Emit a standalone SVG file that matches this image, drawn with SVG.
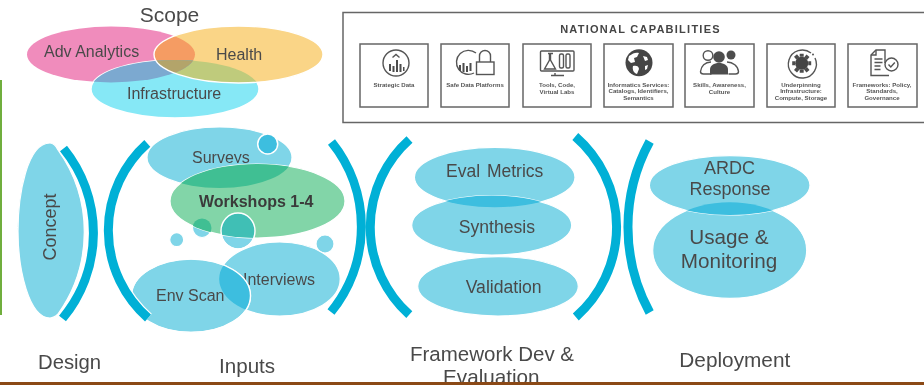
<svg xmlns="http://www.w3.org/2000/svg" width="924" height="385" viewBox="0 0 924 385">
<style>
text{font-family:"Liberation Sans",Arial,sans-serif;fill:#4a4a4a}
.m{text-anchor:middle}
.b{fill:#7fd5e8;stroke:#fff;stroke-width:1.2}
.ov{fill:#3cbedf}
.gr{fill:#40bf93}
.arc{fill:none;stroke:#00b0d6;stroke-width:9}
.halo{fill:none;stroke:#fff;stroke-width:11.500}
.cap{fill:#fff;stroke:#666;stroke-width:1.5}
.capt{font-size:6.1px;font-weight:bold;text-anchor:middle;fill:#555}
.i{fill:none;stroke:#555;stroke-width:1.4}
.d{fill:#4d4d4d;stroke:none}
.w{fill:none;stroke:#fff;stroke-width:1.4}
</style>
<defs>
<filter id="soft" filterUnits="userSpaceOnUse" x="0" y="0" width="924" height="385"><feGaussianBlur stdDeviation="0.55"/></filter>
<clipPath id="cPink"><ellipse cx="111" cy="54.5" rx="84" ry="28"/></clipPath>
<clipPath id="cHealth"><ellipse cx="238.5" cy="54.5" rx="84.5" ry="28.5"/></clipPath>
<clipPath id="cInfra"><ellipse cx="175" cy="89" rx="84" ry="29"/></clipPath>
<clipPath id="cWork"><ellipse cx="257.5" cy="201" rx="87.5" ry="37"/></clipPath>
<clipPath id="cInter"><ellipse cx="279.7" cy="279" rx="60.5" ry="37"/></clipPath>
<clipPath id="cEval"><ellipse cx="494.7" cy="177.3" rx="80.3" ry="30"/></clipPath>
<clipPath id="cUsage"><ellipse cx="729.7" cy="250.3" rx="77" ry="48"/></clipPath>
<clipPath id="cSurveyText"><rect x="185" y="140" width="70" height="23"/></clipPath>
</defs>
<rect width="924" height="385" fill="#fff"/>
<g filter="url(#soft)">
<rect x="0" y="80" width="2" height="235" fill="#6fae3c"/>

<g id="scope">
<text class="m" x="169.500" y="22" font-size="21">Scope</text>
<ellipse cx="111" cy="54.5" rx="84" ry="28" fill="#f08cbc"/>
<ellipse cx="175" cy="89" rx="84" ry="29" fill="#86e8f6" stroke="#fff" stroke-width="1.4"/>
<ellipse cx="238.5" cy="54.5" rx="84.5" ry="28.5" fill="#fad587"/>
<g clip-path="url(#cHealth)"><ellipse cx="111" cy="54.5" rx="84" ry="28" fill="#f59c63"/><ellipse cx="175" cy="89" rx="84" ry="29" fill="#bfcb7c"/><g clip-path="url(#cPink)"><ellipse cx="175" cy="89" rx="84" ry="29" fill="#b3a46a"/></g></g>
<g clip-path="url(#cPink)"><g clip-path="url(#cInfra)"><rect x="91" y="60" width="104" height="24" fill="#7ca9d0"/></g><g clip-path="url(#cHealth)"><g clip-path="url(#cInfra)"><rect x="91" y="60" width="104" height="24" fill="#b3a46a"/></g></g></g>
<ellipse class="w" cx="238.500" cy="54.500" rx="84.500" ry="28.500"/>
<text x="44" y="57" font-size="16">Adv Analytics</text>
<text x="216" y="60" font-size="16">Health</text>
<text x="127" y="99" font-size="16">Infrastructure</text>
</g>

<g id="national-capabilities">
<rect x="343" y="12.500" width="590" height="110" fill="#fff" stroke="#666" stroke-width="1.500"/>
<text class="m" x="640.500" y="33" font-size="11" font-weight="bold" letter-spacing="1.250" style="fill:#444">NATIONAL CAPABILITIES</text>
<g id="cap-strategic"><rect class="cap" x="360" y="44" width="68" height="63"/>
<circle class="i" cx="396" cy="63" r="13"/><path class="i" d="M392.500 57.500l3.500-3 3.500 3"/><path class="d" d="M389 64h2v7h-2zM392.500 66h2v6h-2zM396 60h2v12h-2zM399.500 64h2v8h-2zM403 67h1.500v4H403z"/>
<text class="capt" x="394" y="86.700">Strategic Data</text></g>
<g id="cap-safe"><rect class="cap" x="441" y="44" width="68" height="63"/>
<path class="i" d="M476 53A12 12 0 1 0 474 73"/><path class="d" d="M459 65h2v6h-2zM462.500 63h2v9h-2zM466 66h2v6h-2zM469.500 63h2v8h-2z"/>
<rect class="i" x="476.500" y="62" width="17.500" height="12.500"/><path class="i" d="M479.500 62V56a5.500 5.500 0 0 1 11 0v6"/>
<text class="capt" x="475" y="86.700">Safe Data Platforms</text></g>
<g id="cap-tools"><rect class="cap" x="523" y="44" width="68" height="63"/>
<rect class="i" x="540.500" y="51" width="33.500" height="20" rx="1"/><path class="i" d="M555 73v2M551 75.500h13M548 53.500h5M549.500 54v6l-5 9h11l-5-9v-6"/><rect class="i" x="559.500" y="54" width="4" height="14" rx="1.500"/><rect class="i" x="566" y="54" width="4" height="14" rx="1.500"/>
<text class="capt" x="557" y="86.700">Tools, Code,</text><text class="capt" x="557" y="93.500">Virtual Labs</text></g>
<g id="cap-informatics"><rect class="cap" x="604" y="44" width="69" height="63"/>
<circle cx="639" cy="62.700" r="13.500" fill="#444"/><path d="M629 56c4-3 7-4 10-3l-2 4-3 1 1 4-4 1-3-3zM633 66c3-1 6 0 6 3l-2 5c-3-1-5-4-4-8zM643 56l4 1 1 3-3 1zM645 66l3-1-1 4-2 1z" fill="#fff"/>
<text class="capt" x="638.500" y="86.700">Informatics Services:</text><text class="capt" x="638.500" y="93.300">Catalogs, Identifiers,</text><text class="capt" x="638.500" y="100">Semantics</text></g>
<g id="cap-skills"><rect class="cap" x="685" y="44" width="69" height="63"/>
<circle class="i" cx="708" cy="55.500" r="4.800"/><circle class="d" cx="719" cy="57" r="5.800"/><circle class="d" cx="731" cy="55" r="4.500"/>
<path class="i" d="M711 62c-6 0-10 4-10.500 9.500 0 2 1 2.500 3 2.500h8M727 62c6 0 11 4 11.500 9.500 0 2-1 2.500-3 2.500h-7"/><path class="d" d="M710 74.500v-5c0-4 4-6.500 9-6.500s9 2.500 9 6.500v5z"/>
<text class="capt" x="719.500" y="86.700">Skills, Awareness,</text><text class="capt" x="719.500" y="93.500">Culture</text></g>
<g id="cap-underpinning"><rect class="cap" x="767" y="44" width="68" height="63"/>
<path class="i" d="M811 53A14 14 0 1 0 815 58"/><circle cx="813" cy="54.500" r="1" fill="#555"/><circle cx="801.700" cy="63.300" r="6.500" fill="#444"/><path class="d" d="M799.700 53.800h4v3h-4zM799.700 69.800h4v3h-4zM792.200 61.300h3v4h-3zM808.200 61.300h3v4h-3zM794 56.800l3-2.500 2.500 3-3 2.500zM806.500 54.500l3 2.500-2.500 3-3-2.500zM794 70l3 2.500 2.500-3-3-2.500zM806.500 72.500l3-2.500-2.500-3-3 2.500z"/>
<text class="capt" x="801" y="86.700">Underpinning</text><text class="capt" x="801" y="93.300">Infrastructure:</text><text class="capt" x="801" y="100">Compute, Storage</text></g>
<g id="cap-frameworks"><rect class="cap" x="848" y="44" width="69" height="63"/>
<path class="i" d="M885 63V50H876l-5 5V75.500H889"/><path class="i" d="M876 50v5h-5M874.500 59h8M874.500 62.500h8M874.500 66h6M874.500 69.500h6"/><circle cx="891.500" cy="64.500" r="6.500" fill="#fff" stroke="#555" stroke-width="1.400"/><path class="i" d="M888.500 64.500l2.300 2.500 4-4.500"/>
<text class="capt" x="882" y="86.700">Frameworks: Policy,</text><text class="capt" x="882" y="93.300">Standards,</text><text class="capt" x="882" y="100">Governance</text></g>
</g>

<g id="concept">
<path class="b" d="M50 143C27 143 18 195 18 231C18 270 29 318 50 318C54 318 56 316 58 314A141 141 0 0 0 58 150C56 146 54 143 50 143Z"/>
<text class="m" transform="translate(56,227) rotate(-90)" font-size="18">Concept</text>
</g>

<g id="inputs">
<g id="surveys"><ellipse class="b" cx="219.500" cy="157.500" rx="72.500" ry="30.500"/>
<text x="192" y="163" font-size="16" clip-path="url(#cSurveyText)">Surveys</text></g>
<g id="dot-top"><circle cx="267.700" cy="144" r="10" fill="#3cbedf" stroke="#fff" stroke-width="1.500"/></g>
<g id="dot-left"><circle class="b" cx="176.700" cy="239.700" r="7"/></g>
<g id="dot-mid"><circle class="b" cx="202" cy="228" r="9.500"/></g>
<g id="dot-big"><ellipse class="b" cx="238" cy="231" rx="17" ry="18"/></g>
<g id="workshops"><ellipse cx="257.500" cy="201" rx="87.500" ry="37" fill="#82d5a8" stroke="#fff" stroke-width="1.200"/>
<g clip-path="url(#cWork)"><ellipse class="gr" cx="219.500" cy="157.500" rx="72.500" ry="30.500"/><circle class="gr" cx="202" cy="228" r="9.500"/><ellipse cx="238" cy="231" rx="17" ry="18" fill="#3fbfb5"/></g>
<ellipse class="w" cx="238" cy="231" rx="17" ry="18"/>
<text x="199" y="207" font-size="16" font-weight="bold" style="fill:#3a3a3a">Workshops 1-4</text></g>
<g id="dot-right"><circle class="b" cx="325" cy="244" r="9"/></g>
<g id="interviews"><ellipse class="b" cx="279.700" cy="279" rx="60.500" ry="37"/>
<text x="243" y="285" font-size="16">Interviews</text></g>
<g id="env-scan"><ellipse class="b" cx="191" cy="295.700" rx="59.500" ry="36.700"/>
<g clip-path="url(#cInter)"><ellipse class="ov" cx="191" cy="295.700" rx="59.500" ry="36.700"/></g>
<ellipse class="w" cx="191" cy="295.700" rx="59.500" ry="36.700"/>
<text x="156" y="300.700" font-size="16">Env Scan</text></g>
</g>

<g id="framework">
<g id="eval-metrics"><ellipse class="b" cx="494.700" cy="177.300" rx="80.300" ry="30"/>
<text x="446" y="176.700" font-size="17.500" word-spacing="2">Eval Metrics</text></g>
<g id="synthesis"><ellipse class="b" cx="491.700" cy="225.300" rx="80" ry="29.700"/>
<g clip-path="url(#cEval)"><ellipse class="ov" cx="491.700" cy="225.300" rx="80" ry="29.700"/></g>
<text x="458.700" y="233" font-size="17.600">Synthesis</text></g>
<g id="validation"><ellipse class="b" cx="498" cy="286.300" rx="80.300" ry="29.700"/>
<text x="465.700" y="293.300" font-size="17.600">Validation</text></g>
</g>

<g id="deployment">
<g id="usage"><ellipse class="b" cx="729.700" cy="250.300" rx="77" ry="48"/>
<text class="m" x="729" y="244.300" font-size="20.700">Usage &amp;</text><text class="m" x="729" y="267.700" font-size="20.700">Monitoring</text></g>
<g id="ardc"><ellipse class="b" cx="729.700" cy="185.300" rx="80.300" ry="29.700"/>
<g clip-path="url(#cUsage)"><ellipse class="ov" cx="729.700" cy="185.300" rx="80.300" ry="29.700"/></g>
<text class="m" x="729.500" y="174.300" font-size="18">ARDC</text><text class="m" x="730" y="195" font-size="18">Response</text></g>
</g>

<g id="connectors">
<path class="halo" d="M147.300 143.300A116.700 116.700 0 0 0 148 318"/>
<path class="arc" d="M63.500 148.500A134 134 0 0 1 62.500 318.500"/>
<path class="arc" d="M147.300 143.300A116.700 116.700 0 0 0 148 318"/>
<path class="arc" d="M331.500 142A135 135 0 0 1 331 312"/>
<path class="arc" d="M409.500 139.500A117.600 117.600 0 0 0 409.300 314.700"/>
<path class="arc" d="M575.300 136.500A119.800 119.800 0 0 1 575.800 317"/>
<path class="arc" d="M649.700 141.500A179 179 0 0 0 649.700 312.500"/>
</g>

<g id="stage-labels">
<text x="38" y="369" font-size="20.300">Design</text>
<text x="219" y="372.700" font-size="20.600">Inputs</text>
<text x="410" y="361" font-size="20.500">Framework Dev &amp;</text>
<text x="443" y="384" font-size="20.700">Evaluation</text>
<text x="679.300" y="366.700" font-size="20.800">Deployment</text>
</g>
<rect x="0" y="382" width="924" height="3" fill="#8b4a12"/>
</g>
</svg>
